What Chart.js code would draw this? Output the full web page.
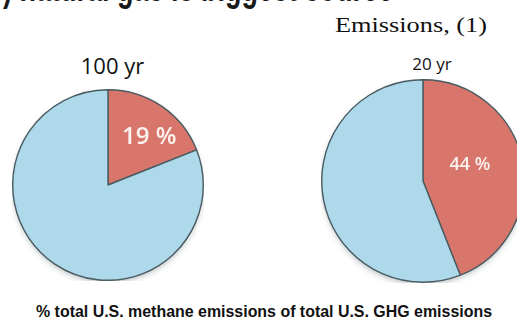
<!DOCTYPE html>
<html>
<head>
<meta charset="utf-8">
<script src="https://cdn.jsdelivr.net/npm/chart.js@4/dist/chart.umd.min.js"></script>
<style>
  html, body { margin: 0; padding: 0; background: #fff; }
  body { width: 517px; height: 325px; position: relative; overflow: hidden; font-family: "Liberation Sans", Arial, sans-serif; }
  .txt { position: absolute; white-space: nowrap; line-height: 1; }
  .headline { left: 3px; font: bold 27px "Liberation Sans", Arial, sans-serif; color: #1a1a1a; }
  .source { font: 21px "Liberation Serif", "Times New Roman", serif; color: #111; }
  .ptitle { font-family: "Open Sans", sans-serif; font-weight: 500; color: #111; }
  .caption { font: bold 16px "Liberation Sans", Arial, sans-serif; color: #111; }
  .pie { position: absolute; }
</style>
</head>
<body>
<div class="txt headline" id="headline">) natural gas is biggest source</div>
<div class="txt source" id="source">Emissions, (1)</div>
<div class="txt ptitle" id="t1" style="font-size:22px">100 yr</div>
<div class="txt ptitle" id="t2" style="font-size:17px">20 yr</div>
<div class="pie" style="left:12px; top:89px; width:192px; height:192px;"><canvas id="c1"></canvas></div>
<div class="pie" style="left:321px; top:79px; width:204px; height:204px;"><canvas id="c2"></canvas></div>
<div class="txt caption" id="caption">% total U.S. methane emissions of total U.S. GHG emissions</div>
<script>
// Share of total U.S. GHG emissions made up by methane, by GWP time horizon
const categories = ['Methane', 'Other GHG'];
const horizons = ['100 yr', '20 yr'];
const methaneShare = [19, 44];

const sliceColors = ['#D9766B', '#ADD9EA'];

// Place a text block by its baseline; optional width stretches it horizontally
function placeText(id, opts) {
  const el = document.getElementById(id);
  if (opts.title !== undefined) el.textContent = opts.title;
  const probe = document.createElement('span');
  probe.style.display = 'inline-block';
  probe.style.width = '0';
  probe.style.height = '0';
  probe.style.verticalAlign = 'baseline';
  el.appendChild(probe);
  const elBox = el.getBoundingClientRect();
  const base = probe.getBoundingClientRect().bottom - elBox.top;
  el.removeChild(probe);
  const w = el.getBoundingClientRect().width;
  const sx = opts.width ? opts.width / w : 1;
  const sy = opts.scaleY || 1;
  el.style.transformOrigin = '0 ' + base + 'px';
  el.style.transform = 'scale(' + sx + ',' + sy + ')';
  const left = opts.center !== undefined ? opts.center - (w * sx) / 2 : opts.left;
  el.style.left = left + 'px';
  el.style.top = (opts.baseline - base) + 'px';
}

placeText('headline', { left: 3, baseline: 1, scaleY: 1.5 });
placeText('source', { left: 335, baseline: 32, width: 152 });
placeText('t1', { title: horizons[0], center: 112.5, baseline: 74 });
placeText('t2', { title: horizons[1], center: 432, baseline: 70 });
placeText('caption', { center: 264, baseline: 317, width: 456 });

// Soft drop shadow under the whole disc
const discShadow = {
  id: 'discShadow',
  beforeDatasetsDraw(chart) {
    const arc = chart.getDatasetMeta(0).data[0];
    const ctx = chart.ctx;
    ctx.save();
    ctx.shadowColor = 'rgba(40,60,70,0.35)';
    ctx.shadowBlur = 6;
    ctx.shadowOffsetY = 3;
    ctx.fillStyle = '#ADD9EA';
    ctx.beginPath();
    ctx.arc(arc.x, arc.y, arc.outerRadius - 1, 0, Math.PI * 2);
    ctx.fill();
    ctx.restore();
  }
};

// Writes the methane percentage inside its wedge
const sliceLabel = {
  id: 'sliceLabel',
  afterDatasetsDraw(chart, args, opts) {
    const ctx = chart.ctx;
    const arc = chart.getDatasetMeta(0).data[0];
    const value = chart.data.datasets[0].data[0];
    const mid = (arc.startAngle + arc.endAngle) / 2 + (opts.angleShift || 0);
    const r = arc.outerRadius * opts.radial;
    ctx.save();
    ctx.fillStyle = '#fbf1ef';
    ctx.font = opts.font;
    ctx.textAlign = 'center';
    ctx.textBaseline = 'middle';
    ctx.fillText(value + ' %', arc.x + Math.cos(mid) * r, arc.y + Math.sin(mid) * r);
    ctx.restore();
  }
};

function makePie(id, idx, labelOpts) {
  const share = methaneShare[idx];
  return new Chart(document.getElementById(id), {
    type: 'pie',
    data: {
      labels: categories,
      datasets: [{
        data: [share, 100 - share],
        backgroundColor: sliceColors,
        borderColor: '#4a5b61',
        borderWidth: 1.4
      }]
    },
    options: {
      responsive: true,
      maintainAspectRatio: false,
      animation: false,
      layout: { padding: 0 },
      plugins: {
        legend: { display: false },
        tooltip: { enabled: false },
        title: { display: false },
        sliceLabel: labelOpts
      }
    },
    plugins: [discShadow, sliceLabel]
  });
}

makePie('c1', 0, { radial: 0.665, angleShift: 0.11, font: '600 24px "Open Sans", sans-serif' });
makePie('c2', 1, { radial: 0.49, angleShift: -0.14, font: '600 18px "Open Sans", sans-serif' });
</script>
</body>
</html>
